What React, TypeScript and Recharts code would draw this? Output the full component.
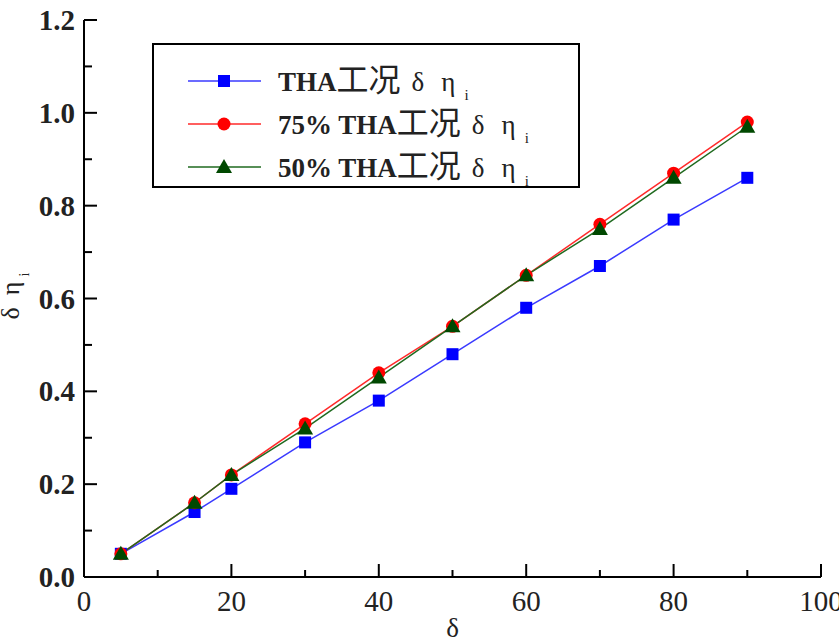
import { LineChart, Line, XAxis, YAxis, Legend } from 'recharts';

// δ (x) and δη_i for the three load cases
const deltaValues = [5, 15, 20, 30, 40, 50, 60, 70, 80, 90];
const thaValues = [0.05, 0.14, 0.19, 0.29, 0.38, 0.48, 0.58, 0.67, 0.77, 0.86];
const tha75Values = [0.05, 0.16, 0.22, 0.33, 0.44, 0.54, 0.65, 0.76, 0.87, 0.98];
const tha50Values = [0.05, 0.16, 0.22, 0.32, 0.43, 0.54, 0.65, 0.75, 0.86, 0.97];

const xTicks = [0, 10, 20, 30, 40, 50, 60, 70, 80, 90, 100];
const yTicks = [0, 0.1, 0.2, 0.3, 0.4, 0.5, 0.6, 0.7, 0.8, 0.9, 1.0, 1.1, 1.2];

const data = deltaValues.map((d, i) => ({
  delta: d,
  tha: thaValues[i],
  tha75: tha75Values[i],
  tha50: tha50Values[i],
}));

const SERIF = "'Liberation Serif', 'Times New Roman', serif";
const CJK = "'Liberation Serif', 'Noto Sans CJK SC', serif";

const BLUE = '#0000ff';
const RED = '#ff0000';
const GREEN = '#004800';

const XTick = (props: any) => {
  const { x, y, index, payload } = props;
  const major = index % 2 === 0;
  return (
    <g>
      <line x1={x} y1={y} x2={x} y2={y - (major ? 13 : 7)} stroke="#000" strokeWidth={2} />
      {major && (
        <text x={x} y={y + 24} textAnchor="middle" dominantBaseline="central"
          fontFamily={SERIF} fontSize={29} fill="#222">
          {payload.value}
        </text>
      )}
    </g>
  );
};

const YTick = (props: any) => {
  const { x, y, index, payload } = props;
  const major = index % 2 === 0;
  return (
    <g>
      <line x1={x} y1={y} x2={x + (major ? 13 : 8)} y2={y} stroke="#000" strokeWidth={2} />
      {major && (
        <text x={x - 9} y={y} textAnchor="end" dominantBaseline="central"
          fontFamily={SERIF} fontWeight="bold" fontSize={29} fill="#222">
          {Number(payload.value).toFixed(1)}
        </text>
      )}
    </g>
  );
};

const squareDot = (p: any) => (
  <rect key={`sq${p.index}`} x={p.cx - 6} y={p.cy - 6} width={12} height={12} fill={BLUE} />
);
const circleDot = (p: any) => (
  <circle key={`ci${p.index}`} cx={p.cx} cy={p.cy} r={6.5} fill={RED} />
);
const triangleDot = (p: any) => (
  <polygon key={`tr${p.index}`}
    points={`${p.cx},${p.cy - 8} ${p.cx - 8},${p.cy + 6} ${p.cx + 8},${p.cy + 6}`} fill={GREEN} />
);

const legendRows = [
  { prefix: '', color: BLUE, line: '#3a3aff', marker: 'square' },
  { prefix: '75% ', color: RED, line: '#ff2a2a', marker: 'circle' },
  { prefix: '50% ', color: GREEN, line: '#1f6a1f', marker: 'triangle' },
];

const LegendBox = () => (
  <svg width={428} height={145} style={{ display: 'block' }}>
    <rect x={1} y={1} width={426} height={143} fill="#fff" stroke="#000" strokeWidth={2} />
    {legendRows.map((r, i) => {
      const cy = 38 + i * 43;
      return (
        <g key={i}>
          <line x1={36} y1={cy} x2={109} y2={cy} stroke={r.line} strokeWidth={1.5} />
          {r.marker === 'square' && <rect x={66} y={cy - 6} width={12} height={12} fill={r.color} />}
          {r.marker === 'circle' && <circle cx={72} cy={cy} r={6.5} fill={r.color} />}
          {r.marker === 'triangle' && (
            <polygon points={`72,${cy - 8} 64,${cy + 6} 80,${cy + 6}`} fill={r.color} />
          )}
          <text x={126} y={cy + 10} fontFamily={CJK} fontSize={27} fill="#222">
            <tspan fontWeight="bold">{r.prefix}THA</tspan>
            <tspan fontSize={32}>工况</tspan>
            <tspan dx={11}>δ</tspan>
            <tspan dx={17}>η</tspan>
            <tspan dx={9} dy={9} fontSize={15}>i</tspan>
          </text>
        </g>
      );
    })}
  </svg>
);

const YTitle = () => {
  const cx = 19;
  const cy = 296;
  return (
    <text x={cx} y={cy} transform={`rotate(-90 ${cx} ${cy})`} textAnchor="middle"
      fontFamily={SERIF} fontSize={26} fill="#222">
      <tspan>δ</tspan>
      <tspan dx={12}>η</tspan>
      <tspan dx={5} dy={10} fontSize={14}>i</tspan>
    </text>
  );
};

const XTitle = (props: any) => {
  const { viewBox } = props;
  const cx = viewBox.x + viewBox.width / 2;
  return (
    <text x={cx} y={viewBox.y + 60} textAnchor="middle" fontFamily={SERIF} fontSize={27} fill="#222">
      δ
    </text>
  );
};

export default function App() {
  return (
    <div style={{ width: 839, height: 640, background: '#fff' }}>
      <style>{'body{margin:0;background:#fff}'}</style>
      <LineChart width={839} height={640} data={data}
        margin={{ top: 20, right: 18, bottom: 3, left: 0 }}>
        <XAxis dataKey="delta" type="number" domain={[0, 100]} ticks={xTicks}
          axisLine={{ stroke: '#000', strokeWidth: 2 }} tickLine={false} tickSize={0} tickMargin={0}
          tick={<XTick />} height={60} interval={0} label={{ content: <XTitle /> }} />
        <YAxis type="number" domain={[0, 1.2]} ticks={yTicks} width={84}
          axisLine={{ stroke: '#000', strokeWidth: 2 }} tickLine={false} tickSize={0} tickMargin={0}
          tick={<YTick />} interval={0} label={{ content: <YTitle /> }} />
        <Legend layout="horizontal" verticalAlign="middle" align="center"
          wrapperStyle={{ position: 'absolute', left: 152, top: 43, width: 428, height: 145 }}
          content={() => <LegendBox />} />
        <Line dataKey="tha" stroke="#3a3aff" strokeWidth={1.5} dot={squareDot}
          activeDot={false} isAnimationActive={false} />
        <Line dataKey="tha75" stroke="#ff2a2a" strokeWidth={1.5} dot={circleDot}
          activeDot={false} isAnimationActive={false} />
        <Line dataKey="tha50" stroke="#1f6a1f" strokeWidth={1.5} dot={triangleDot}
          activeDot={false} isAnimationActive={false} />
      </LineChart>
    </div>
  );
}
